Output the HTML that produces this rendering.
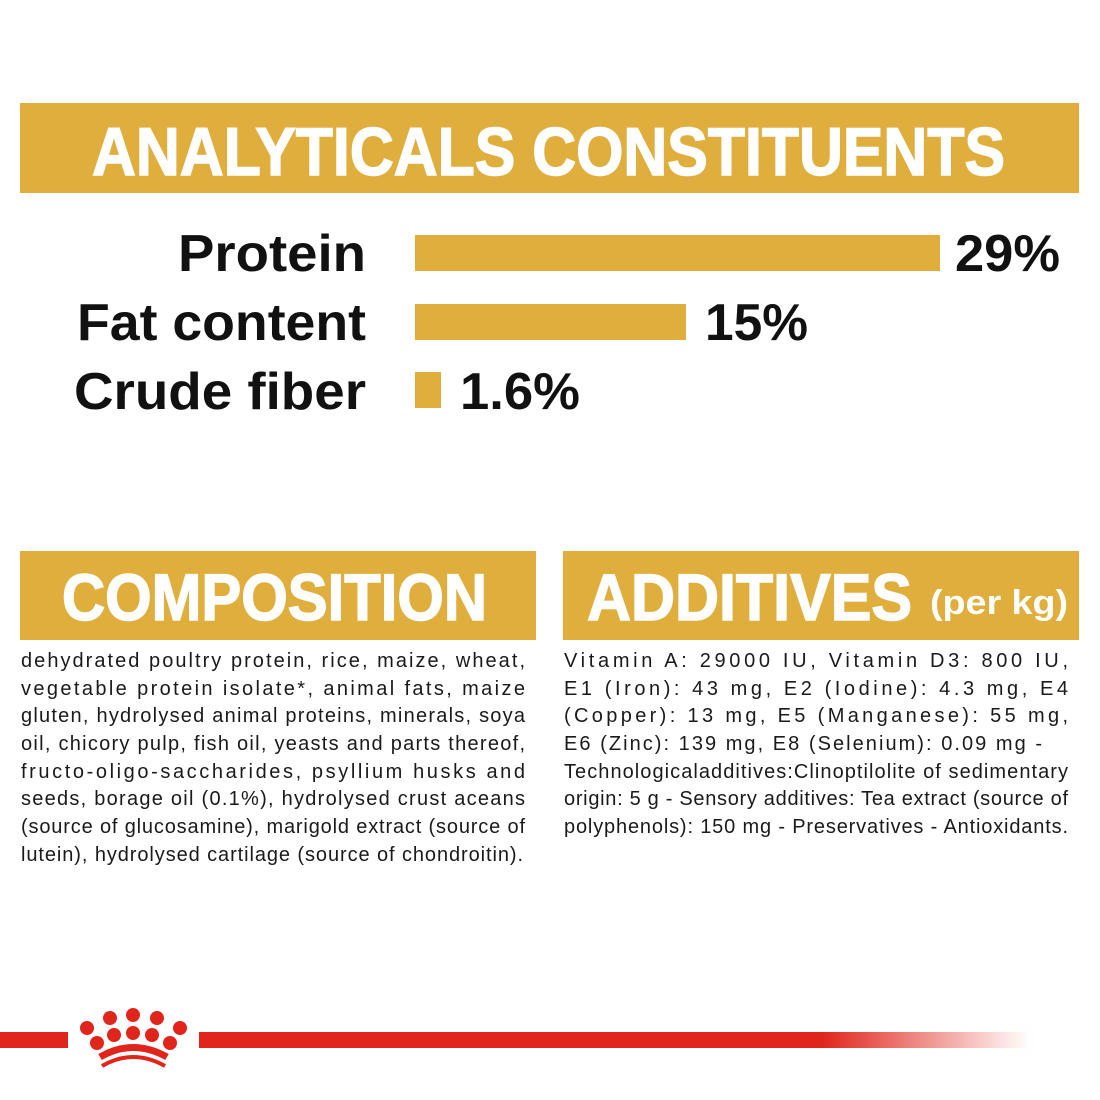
<!DOCTYPE html>
<html><head><meta charset="utf-8"><style>
html,body{margin:0;padding:0;background:#fff;width:1100px;height:1100px;overflow:hidden}
svg{display:block}
.h{font-family:"Liberation Sans Narrow","Liberation Sans",sans-serif;font-weight:bold}
.b{font-family:"Liberation Sans",sans-serif;font-size:20px;fill:#1a1a1a}
</style></head><body>
<svg width="1100" height="1100" viewBox="0 0 1100 1100">
<defs>
<linearGradient id="g" x1="0" x2="1"><stop offset="0" stop-color="#e0261c"/><stop offset="0.75" stop-color="#e0261c"/><stop offset="1" stop-color="#e0261c" stop-opacity="0"/></linearGradient>
</defs>
<rect x="20" y="103" width="1059" height="90" fill="#e0ae3c"/>
<text class="h" x="92" y="175" font-size="68" fill="#fff" stroke="#fff" stroke-width="1.5" textLength="913" lengthAdjust="spacingAndGlyphs">ANALYTICALS CONSTITUENTS</text>

<g class="h" font-size="52" fill="#111">
<text x="366" y="271" text-anchor="end" textLength="188" lengthAdjust="spacingAndGlyphs">Protein</text>
<text x="366" y="340" text-anchor="end" textLength="289" lengthAdjust="spacingAndGlyphs">Fat content</text>
<text x="366" y="409" text-anchor="end" textLength="292" lengthAdjust="spacingAndGlyphs">Crude fiber</text>
<text x="955" y="271" textLength="105" lengthAdjust="spacingAndGlyphs">29%</text>
<text x="705" y="340" textLength="103" lengthAdjust="spacingAndGlyphs">15%</text>
<text x="460" y="409" textLength="120" lengthAdjust="spacingAndGlyphs">1.6%</text>
</g>
<rect x="415" y="235" width="525" height="36" fill="#e0ae3c"/>
<rect x="415" y="304" width="271" height="36" fill="#e0ae3c"/>
<rect x="415" y="372" width="26" height="36" fill="#e0ae3c"/>

<rect x="20" y="551" width="516" height="89" fill="#e0ae3c"/>
<rect x="563" y="551" width="516" height="89" fill="#e0ae3c"/>
<text class="h" x="62" y="620" font-size="66" fill="#fff" stroke="#fff" stroke-width="1.5" textLength="425" lengthAdjust="spacingAndGlyphs">COMPOSITION</text>
<text class="h" x="587" y="620" font-size="66" fill="#fff" stroke="#fff" stroke-width="1.5" textLength="325" lengthAdjust="spacingAndGlyphs">ADDITIVES</text>
<text class="h" x="930" y="614" font-size="34" fill="#fff" textLength="138" lengthAdjust="spacingAndGlyphs">(per kg)</text>

<g class="b">
<text x="21" y="667" textLength="504">dehydrated poultry protein, rice, maize, wheat,</text>
<text x="21" y="695" textLength="504">vegetable protein isolate*, animal fats, maize</text>
<text x="21" y="722" textLength="504">gluten, hydrolysed animal proteins, minerals, soya</text>
<text x="21" y="750" textLength="504">oil, chicory pulp, fish oil, yeasts and parts thereof,</text>
<text x="21" y="778" textLength="504">fructo-oligo-saccharides, psyllium husks and</text>
<text x="21" y="805" textLength="504">seeds, borage oil (0.1%), hydrolysed crust aceans</text>
<text x="21" y="833" textLength="504">(source of glucosamine), marigold extract (source of</text>
<text x="21" y="861" textLength="502">lutein), hydrolysed cartilage (source of chondroitin).</text>

<text x="564" y="667" textLength="504">Vitamin A: 29000 IU, Vitamin D3: 800 IU,</text>
<text x="564" y="695" textLength="504">E1 (Iron): 43 mg, E2 (Iodine): 4.3 mg, E4</text>
<text x="564" y="722" textLength="504">(Copper): 13 mg, E5 (Manganese): 55 mg,</text>
<text x="564" y="750" textLength="478">E6 (Zinc): 139 mg, E8 (Selenium): 0.09 mg -</text>
<text x="564" y="778" textLength="504">Technologicaladditives:Clinoptilolite of sedimentary</text>
<text x="564" y="805" textLength="504">origin: 5 g - Sensory additives: Tea extract (source of</text>
<text x="564" y="833" textLength="504">polyphenols): 150 mg - Preservatives - Antioxidants.</text>
</g>

<rect x="0" y="1032" width="68" height="16" fill="#e0261c"/>
<rect x="199" y="1032" width="831" height="16" fill="url(#g)"/>
<g fill="#e0261c">
<circle cx="87" cy="1028" r="7"/><circle cx="110" cy="1018" r="7"/><circle cx="133" cy="1015" r="7"/><circle cx="157" cy="1018" r="7"/><circle cx="180" cy="1028" r="7"/>
<circle cx="97" cy="1043" r="7"/><circle cx="114" cy="1035" r="7"/><circle cx="133" cy="1033" r="7"/><circle cx="152" cy="1035" r="7"/><circle cx="170" cy="1043" r="7"/>
</g>
<path d="M100 1057 Q133 1038 167 1057" stroke="#e0261c" stroke-width="7" fill="none"/>
<path d="M102 1066 Q133 1048 165 1066" stroke="#e0261c" stroke-width="4" fill="none"/>
</svg>
</body></html>
